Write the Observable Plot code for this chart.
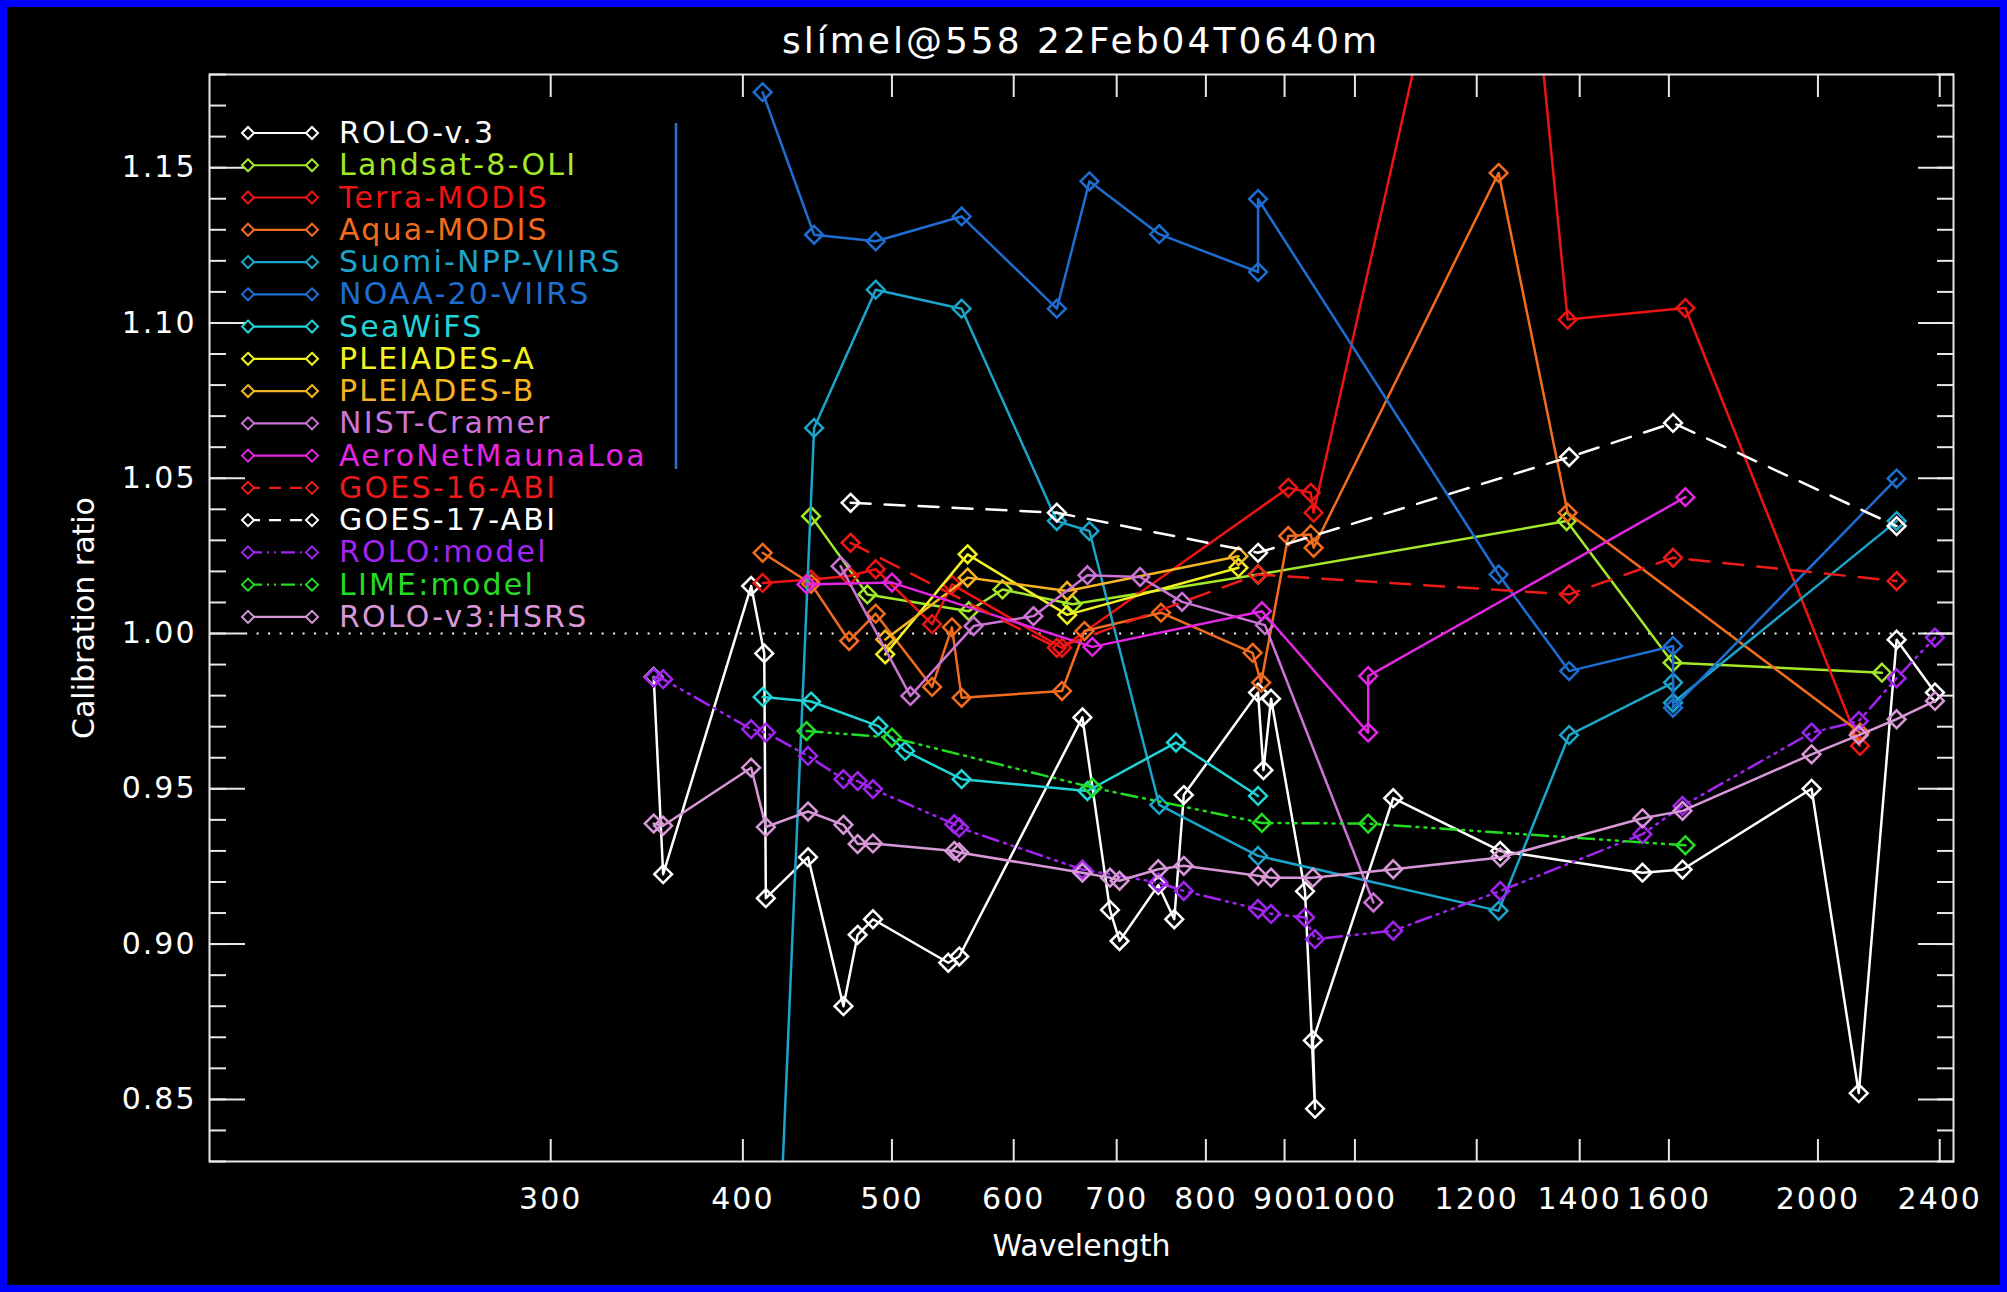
<!DOCTYPE html>
<html><head><meta charset="utf-8">
<script src="https://cdn.jsdelivr.net/npm/d3@7"></script>
<script src="https://cdn.jsdelivr.net/npm/@observablehq/plot@0.6"></script>
<style>
html,body{margin:0;padding:0;background:#0000ff;width:2007px;height:1292px;overflow:hidden;}
#wrap{position:absolute;left:7px;top:7px;width:1993px;height:1278px;background:#000;overflow:hidden;font-family:"DejaVu Sans",sans-serif;}
#title{position:relative;height:60px;margin-left:202px;width:1744px;text-align:center;color:#fff;font-size:36px;line-height:1;padding-top:16px;box-sizing:border-box;letter-spacing:3px;}
#chart{position:absolute;left:0;top:60px;}
#legend{position:absolute;left:0;top:0;width:1993px;height:1278px;pointer-events:none;}
.lg{position:absolute;font-size:30px;line-height:1;letter-spacing:2.2px;white-space:nowrap;}
#chart g[aria-label="ylabel"] text{letter-spacing:1.6px;}
#chart g[aria-label="x-axis tick label"] text{letter-spacing:2px;}
#chart g[aria-label="y-axis tick label"] text{letter-spacing:2px;}
</style></head>
<body><div id="wrap"><div id="title">slímel@558 22Feb04T0640m</div><div id="chart"></div><div id="legend"></div></div>
<script>
// ---------- tick labels ----------
const xTickValues = [300,400,500,600,700,800,900,1000,1200,1400,1600,2000,2400];
const yLabelTicks = [0.85,0.90,0.95,1.00,1.05,1.10,1.15];
const yMinorTicks = d3.range(83,119).map(d => d/100);

// ---------- series names / colors ----------
const seriesNames = ["ROLO-v.3","Landsat-8-OLI","Terra-MODIS","Aqua-MODIS","Suomi-NPP-VIIRS","NOAA-20-VIIRS","SeaWiFS","PLEIADES-A","PLEIADES-B","NIST-Cramer","AeroNetMaunaLoa","GOES-16-ABI","GOES-17-ABI","ROLO:model","LIME:model","ROLO-v3:HSRS"];
const seriesColors = ["#ffffff","#a4e82a","#ee1414","#f26c1e","#1ca4ca","#1e6ed2","#22d4d8","#f2f222","#f4b424","#cc74d6","#e226e2","#ee1a1a","#ffffff","#a224f0","#24dc24","#d898d8"];
const seriesDash = [null,null,null,null,null,null,null,null,null,null,null,"20,14","20,14","16,6,2,6,2,6,2,6","16,6,2,6,2,6,2,6",null];

// ---------- data (wavelength nm, calibration ratio) ----------
const roloV3Wl  = [350,355,405,413,414,441,465,475,486,544,553,665,693,703,745,763,774,865,872,882,928,942,939,1059,1243,1538,1633,1981,2126,2250,2383];
const roloV3Val = [0.986,0.9225,1.0153,0.9936,0.9148,0.928,0.880,0.903,0.908,0.894,0.896,0.973,0.911,0.901,0.919,0.908,0.948,0.981,0.956,0.979,0.917,0.847,0.869,0.947,0.930,0.923,0.924,0.950,0.852,0.998,0.981];

const landsatWl  = [443,482,561,590,655,865,1373,1609,2201];
const landsatVal = [1.0378,1.0126,1.0072,1.0142,1.0094,1.019,1.0362,0.9906,0.9874];

const terraWl  = [412,443,469,488,531,547,645,905,936,940,1250,1375,1640,2130];
const terraVal = [1.0163,1.0174,1.0185,1.0207,1.003,1.0158,0.9954,1.0469,1.0453,1.0389,1.3106,1.1011,1.1048,0.9638];

const aquaWl  = [412,443,469,488,531,547,555,645,667,748,858,869,905,936,940,1240,1375,2130];
const aquaVal = [1.026,1.016,0.9976,1.0064,0.9828,1.002,0.9793,0.9815,1.0008,1.0067,0.9938,0.9842,1.0314,1.0319,1.0276,1.1483,1.0389,0.9681];

const suomiWl  = [412,445,488,555,640,672,746,865,1240,1378,1610,1610,2250];
const suomiVal = [0.677,1.0662,1.1107,1.1046,1.0362,1.0330,0.9448,0.9284,0.9107,0.9673,0.9842,0.9777,1.0362];

const noaa20Wl  = [412,445,488,555,640,672,746,865,865,1240,1378,1610,1610,2250];
const noaa20Val = [1.1743,1.1284,1.1263,1.1343,1.1046,1.1456,1.1286,1.1164,1.1399,1.0190,0.9879,0.9960,0.9761,1.0499];

const seawifsWl  = [412,443,490,510,555,670,765,865];
const seawifsVal = [0.9796,0.9781,0.9702,0.9622,0.9531,0.9493,0.9649,0.9477];

const pleiadesAWl  = [495,560,650,840];
const pleiadesAVal = [0.9933,1.0255,1.006,1.0212];

const pleiadesBWl  = [495,560,650,840];
const pleiadesBVal = [0.9981,1.018,1.0137,1.0249];

const nistWl  = [463,514,565,618,670,725,772,874,1028];
const nistVal = [1.0217,0.9799,1.0024,1.0056,1.0188,1.0182,1.0102,1.0027,0.9134];

const aeronetWl  = [440,500,675,870,1020,1020,1640];
const aeronetVal = [1.0158,1.0164,0.9957,1.0072,0.9681,0.9863,1.0439];

const goes16Wl  = [470,640,865,1378,1610,2250];
const goes16Val = [1.0292,0.9954,1.019,1.0126,1.0244,1.0169];

const goes17Wl  = [470,640,865,1378,1610,2250];
const goes17Val = [1.0421,1.0389,1.026,1.0568,1.0678,1.0346];

const roloModelWl  = [350,355,405,414,441,465,475,486,549,553,665,745,774,865,882,928,942,1059,1243,1538,1633,1981,2126,2250,2383];
const roloModelVal = [0.9858,0.9853,0.9692,0.9681,0.9606,0.9531,0.9525,0.9499,0.9386,0.9375,0.924,0.9198,0.9171,0.9113,0.9097,0.9086,0.9016,0.9043,0.9171,0.9354,0.9445,0.9681,0.9718,0.9856,0.9987];

const limeWl  = [440,500,675,870,1020,1640];
const limeVal = [0.9686,0.9665,0.9504,0.939,0.9388,0.9318];

const hsrsWl  = [350,355,405,414,441,465,475,486,549,553,665,693,703,745,774,865,882,939,1059,1243,1538,1633,1981,2126,2250,2383];
const hsrsVal = [0.9388,0.9381,0.9568,0.9377,0.9427,0.9384,0.9322,0.9324,0.9300,0.9295,0.9230,0.9214,0.9204,0.9241,0.9252,0.9220,0.9214,0.9214,0.9241,0.9279,0.9405,0.9429,0.9611,0.9673,0.9724,0.9783];

const seriesWl  = [roloV3Wl,landsatWl,terraWl,aquaWl,suomiWl,noaa20Wl,seawifsWl,pleiadesAWl,pleiadesBWl,nistWl,aeronetWl,goes16Wl,goes17Wl,roloModelWl,limeWl,hsrsWl];
const seriesVal = [roloV3Val,landsatVal,terraVal,aquaVal,suomiVal,noaa20Val,seawifsVal,pleiadesAVal,pleiadesBVal,nistVal,aeronetVal,goes16Val,goes17Val,roloModelVal,limeVal,hsrsVal];

const seriesRows = seriesNames.map((name, i) => seriesWl[i].map((w, j) => ({series: name, wl: w, val: seriesVal[i][j]})));

// ---------- plot ----------
const marks = [];
marks.push(Plot.ruleY([{y: 1, x1: 190, x2: 2450}], {y: "y", x1: "x1", x2: "x2", stroke: "#ffffff", strokeWidth: 2, strokeDasharray: "2,9.5"}));
seriesNames.forEach((name, i) => {
  marks.push(Plot.line(seriesRows[i], {x: "wl", y: "val", stroke: seriesColors[i], strokeWidth: 2.5, strokeDasharray: seriesDash[i], clip: true}));
  marks.push(Plot.dot(seriesRows[i], {x: "wl", y: "val", symbol: "diamond2", r: 8, stroke: seriesColors[i], strokeWidth: 2.5, fill: "none", clip: true}));
});
// axes: IDL-style inward ticks on all four sides
const axStyle = {stroke: "#e8e8e8", strokeWidth: 2};
marks.push(Plot.axisX(xTickValues, {anchor: "bottom", tickSize: -22, tickFormat: () => "", label: null, ...axStyle}));
marks.push(Plot.axisX(xTickValues, {anchor: "top", tickSize: -22, tickFormat: () => "", label: null, ...axStyle}));
marks.push(Plot.axisX(xTickValues, {anchor: "bottom", tickSize: 0, tickPadding: 26, tickFormat: d => String(d), label: null, fontSize: 30, fill: "#ffffff"}));
marks.push(Plot.axisY(yMinorTicks, {anchor: "left", tickSize: -17, tickFormat: () => "", label: null, ...axStyle}));
marks.push(Plot.axisY(yMinorTicks, {anchor: "right", tickSize: -17, tickFormat: () => "", label: null, ...axStyle}));
marks.push(Plot.axisY(yLabelTicks, {anchor: "left", tickSize: -36, tickFormat: () => "", label: null, ...axStyle}));
marks.push(Plot.axisY(yLabelTicks, {anchor: "right", tickSize: -36, tickFormat: () => "", label: null, ...axStyle}));
marks.push(Plot.axisY(yLabelTicks, {anchor: "left", tickSize: 0, tickPadding: 13, tickFormat: d3.format(".2f"), label: null, fontSize: 30, fill: "#ffffff"}));
marks.push(Plot.frame({stroke: "#e8e8e8", strokeWidth: 2}));
marks.push(Plot.text(["Calibration ratio"], {frameAnchor: "left", textAnchor: "middle", dx: -125, rotate: -90, fill: "#ffffff", fontSize: 30, text: d => d, ariaLabel: "ylabel"}));
marks.push(Plot.text(["Wavelength"], {frameAnchor: "bottom", textAnchor: "middle", dy: 94, fill: "#ffffff", fontSize: 30, text: d => d, ariaLabel: "xlabel"}));

const chart = Plot.plot({
  width: 1993, height: 1218,
  marginLeft: 202, marginRight: 47, marginTop: 7, marginBottom: 124,
  style: {background: "#000", color: "#fff", fontFamily: "DejaVu Sans, sans-serif", overflow: "visible"},
  x: {type: "log", domain: [180, 2450], axis: null},
  y: {domain: [0.83, 1.18], axis: null},
  marks
});
document.getElementById("chart").appendChild(chart);

// ---------- legend (inside plot, top-left) ----------
const lg = document.getElementById("legend");
const svg = d3.select(lg).append("svg").attr("width", 1993).attr("height", 1278).style("position","absolute").style("left","0").style("top","0");
seriesNames.forEach((name, i) => {
  const y = 133 - 7 + i * 32.26;
  const g = svg.append("g");
  g.append("line").attr("x1", 241).attr("x2", 305).attr("y1", y).attr("y2", y)
    .attr("stroke", seriesColors[i]).attr("stroke-width", 2.2).attr("stroke-dasharray", seriesDash[i] ? (i >= 13 ? "14,5,2,5,2,5" : "12,9") : null);
  [241, 305].forEach(cx => g.append("path").attr("d", `M${cx},${y-6}L${cx+6},${y}L${cx},${y+6}L${cx-6},${y}Z`).attr("fill","#000").attr("stroke", seriesColors[i]).attr("stroke-width", 2));
  const t = document.createElement("div");
  t.className = "lg"; t.textContent = name; t.style.color = seriesColors[i];
  t.style.left = (339 - 7) + "px"; t.style.top = (y - 15) + "px";
  lg.appendChild(t);
});
svg.append("line").attr("x1", 669).attr("x2", 669).attr("y1", 116).attr("y2", 462).attr("stroke", "#2f6fd0").attr("stroke-width", 2.5);
</script></body></html>
